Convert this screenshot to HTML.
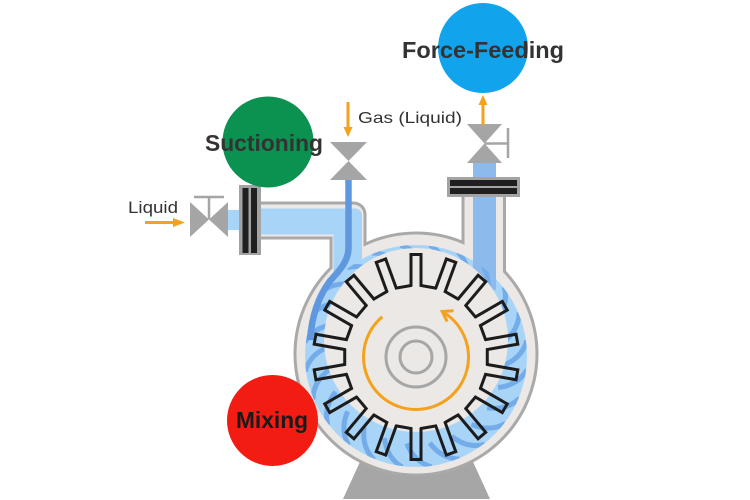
<!DOCTYPE html>
<html>
<head>
<meta charset="utf-8">
<style>
  html,body{margin:0;padding:0;background:#fff;}
  svg{display:block;}
  .lbl{font-family:"Liberation Sans",Arial,sans-serif;font-weight:bold;font-size:23px;fill:#333;}
  .sm{font-family:"Liberation Sans",Arial,sans-serif;font-size:16px;fill:#333;}
</style>
</head>
<body>
<svg width="750" height="500" viewBox="0 0 750 500" xmlns="http://www.w3.org/2000/svg">
  <defs>
    <path id="tooth" d="M411,285.5 V254.5 H421 V285.5 L435.76,288.1" fill="none" stroke="#1c1c1c" stroke-width="3" stroke-linejoin="miter" stroke-linecap="round"/>
    <path id="sw" d="M400.4,245.1 Q418,250 425.2,268.5" fill="none" stroke="#74ace9" stroke-width="5"/>
    <mask id="ringm" maskUnits="userSpaceOnUse" x="0" y="0" width="750" height="500">
      <circle cx="416" cy="356" r="111" fill="#fff"/>
      <circle cx="416" cy="340" r="92" fill="#000"/>
    </mask>
  </defs>

  <rect width="750" height="500" fill="#fff"/>

  <!-- base -->
  <polygon points="343,499 490,499 463,440 370,440" fill="#a6a6a6"/>

  <!-- outlines -->
  <g fill="none" stroke="#a9a9a9" stroke-width="6">
    <circle cx="416" cy="354" r="119.5"/>
    <path d="M255,204.5 H353.5 A10,10 0 0 1 363.5,214.5 V300 H332.5 V236.5 H255 Z"/>
    <path d="M464.5,190 H503 V300 H464.5 Z"/>
  </g>
  <!-- fills -->
  <g fill="#ebe8e6">
    <circle cx="416" cy="354" r="119.5"/>
    <path d="M255,204.5 H353.5 A10,10 0 0 1 363.5,214.5 V300 H332.5 V236.5 H255 Z"/>
    <path d="M464.5,190 H503 V300 H464.5 Z"/>
  </g>

  <!-- liquid ring -->
  <circle cx="416" cy="356" r="111" fill="#a8d5f7"/>
  <!-- pipe fluids -->
  <path d="M258,208.5 H355 A7,7 0 0 1 362,215.5 V290 H333.5 V234.5 H258 Z" fill="#a8d5f7"/>
  <rect x="228" y="210" width="12" height="20" fill="#a8d5f7"/>
  <rect x="473" y="163" width="23" height="127" fill="#8cbaec"/>
  <!-- inner gray -->
  <circle cx="416" cy="340" r="92" fill="#ebe8e6"/>

  <!-- swirl stripes -->
  <g mask="url(#ringm)">
    <use href="#sw" transform="rotate(0 416 356)"/>
    <use href="#sw" transform="rotate(15 416 356)"/>
    <use href="#sw" transform="rotate(30 416 356)"/>
    <use href="#sw" transform="rotate(45 416 356)"/>
    <use href="#sw" transform="rotate(60 416 356)"/>
    <use href="#sw" transform="rotate(75 416 356)"/>
    <use href="#sw" transform="rotate(90 416 356)"/>
    <use href="#sw" transform="rotate(105 416 356)"/>
    <use href="#sw" transform="rotate(120 416 356)"/>
    <use href="#sw" transform="rotate(135 416 356)"/>
    <use href="#sw" transform="rotate(150 416 356)"/>
    <use href="#sw" transform="rotate(165 416 356)"/>
    <use href="#sw" transform="rotate(180 416 356)"/>
    <use href="#sw" transform="rotate(195 416 356)"/>
    <use href="#sw" transform="rotate(210 416 356)"/>
    <use href="#sw" transform="rotate(225 416 356)"/>
    <use href="#sw" transform="rotate(240 416 356)"/>
    <use href="#sw" transform="rotate(255 416 356)"/>
    <use href="#sw" transform="rotate(270 416 356)"/>
    <use href="#sw" transform="rotate(285 416 356)"/>
    <use href="#sw" transform="rotate(300 416 356)"/>
    <use href="#sw" transform="rotate(315 416 356)"/>
    <use href="#sw" transform="rotate(330 416 356)"/>
    <use href="#sw" transform="rotate(345 416 356)"/>
  </g>

  <!-- gas line -->
  <path d="M348.5,178 V248 C348.5,262 338,272 330,281 C321,293 312,312 310,340" fill="none" stroke="#5f98de" stroke-width="6.5"/>

  <!-- flanges -->
  <rect x="239" y="185" width="22" height="70" fill="#a3a3a3"/>
  <rect x="242.5" y="188" width="6" height="65" fill="#1f1f1f"/>
  <rect x="251" y="188" width="6" height="65" fill="#1f1f1f"/>
  <rect x="447" y="177" width="73" height="20" fill="#a3a3a3"/>
  <rect x="450" y="180" width="67" height="6" fill="#1f1f1f"/>
  <rect x="450" y="188" width="67" height="6" fill="#1f1f1f"/>

  <!-- valves -->
  <g fill="#a5a5a5">
    <polygon points="190,202 209,219.5 190,237"/>
    <polygon points="228,202 209,219.5 228,237"/>
    <polygon points="330,142 367,142 348.5,161"/>
    <polygon points="330,180 367,180 348.5,161"/>
    <polygon points="467,124 502,124 484.5,143.5"/>
    <polygon points="467,163 502,163 484.5,143.5"/>
  </g>
  <g stroke="#a5a5a5" stroke-width="2.5" fill="none">
    <line x1="209" y1="219" x2="209" y2="197"/>
    <line x1="194" y1="197" x2="224" y2="197"/>
    <line x1="484.5" y1="143.5" x2="508" y2="143.5"/>
    <line x1="508" y1="128" x2="508" y2="158"/>
  </g>

  <!-- orange arrows -->
  <g stroke="#f4a11c" stroke-width="3" fill="none">
    <line x1="145" y1="222.5" x2="176" y2="222.5"/>
    <line x1="348" y1="102" x2="348" y2="128"/>
    <line x1="483" y1="125" x2="483" y2="103"/>
  </g>
  <g fill="#f4a11c">
    <polygon points="173,218 185,222.5 173,227"/>
    <polygon points="343.5,127 352.5,127 348,137"/>
    <polygon points="478.5,105 487.5,105 483,95"/>
  </g>

  <!-- impeller -->
  <g>
    <use href="#tooth" transform="rotate(0 416 357)"/>
    <use href="#tooth" transform="rotate(20 416 357)"/>
    <use href="#tooth" transform="rotate(40 416 357)"/>
    <use href="#tooth" transform="rotate(60 416 357)"/>
    <use href="#tooth" transform="rotate(80 416 357)"/>
    <use href="#tooth" transform="rotate(100 416 357)"/>
    <use href="#tooth" transform="rotate(120 416 357)"/>
    <use href="#tooth" transform="rotate(140 416 357)"/>
    <use href="#tooth" transform="rotate(160 416 357)"/>
    <use href="#tooth" transform="rotate(180 416 357)"/>
    <use href="#tooth" transform="rotate(200 416 357)"/>
    <use href="#tooth" transform="rotate(220 416 357)"/>
    <use href="#tooth" transform="rotate(240 416 357)"/>
    <use href="#tooth" transform="rotate(260 416 357)"/>
    <use href="#tooth" transform="rotate(280 416 357)"/>
    <use href="#tooth" transform="rotate(300 416 357)"/>
    <use href="#tooth" transform="rotate(320 416 357)"/>
    <use href="#tooth" transform="rotate(340 416 357)"/>
  </g>

  <!-- hub -->
  <circle cx="416" cy="357" r="30" fill="none" stroke="#a6a6a6" stroke-width="3"/>
  <circle cx="416" cy="357" r="16" fill="none" stroke="#a6a6a6" stroke-width="3"/>

  <!-- rotation arrow -->
  <path d="M382.25,316.8 A52.5,52.5 0 1 0 442.25,311.5" fill="none" stroke="#f4a11c" stroke-width="3"/>
  <polyline points="447.1,321.5 442.25,311.5 453.5,310.8" fill="none" stroke="#f4a11c" stroke-width="3" stroke-linejoin="miter"/>

  <!-- labels circles -->
  <circle cx="268" cy="142" r="45.5" fill="#0b9150"/>
  <circle cx="483" cy="48" r="45" fill="#11a3ec"/>
  <circle cx="272.5" cy="420.5" r="45.5" fill="#f21c13"/>

  <text class="lbl" x="205" y="151" textLength="118" lengthAdjust="spacingAndGlyphs">Suctioning</text>
  <text class="lbl" x="402" y="58" textLength="162" lengthAdjust="spacingAndGlyphs">Force-Feeding</text>
  <text class="lbl" x="236" y="428" textLength="72" lengthAdjust="spacingAndGlyphs" style="fill:#1a1a1a">Mixing</text>

  <text class="sm" x="358" y="123" textLength="104" lengthAdjust="spacingAndGlyphs">Gas (Liquid)</text>
  <text class="sm" x="128" y="213" textLength="50" lengthAdjust="spacingAndGlyphs" style="font-size:16.5px">Liquid</text>
</svg>
</body>
</html>
